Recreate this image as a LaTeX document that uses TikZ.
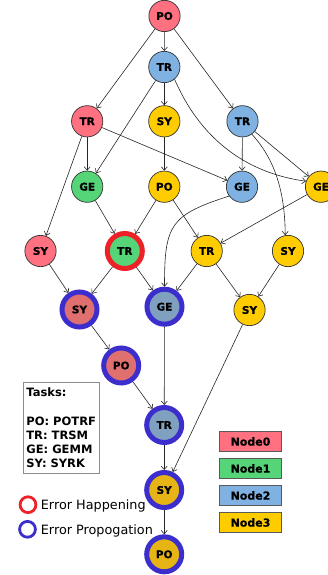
\documentclass[tikz,border=0pt]{standalone}
\usepackage{fontspec}
\setmainfont{DejaVu Sans}
\newfontfamily\heavyfam[FakeBold=0.8]{DejaVu Sans Bold}
\usetikzlibrary{arrows.meta}
\definecolor{cnode0}{RGB}{255,112,128}
\definecolor{cnode1}{RGB}{85,212,120}
\definecolor{cnode2}{RGB}{127,178,226}
\definecolor{cnode3}{RGB}{255,204,0}
\definecolor{rnode0}{RGB}{224,112,112}
\definecolor{rnode2}{RGB}{128,160,192}
\definecolor{rnode3}{RGB}{230,180,20}
\definecolor{ringblue}{RGB}{60,45,205}
\definecolor{ringred}{RGB}{238,32,40}
\newcommand\ndfont{\heavyfam\fontsize{10.5}{12}\selectfont}
\newcommand\lgfont{\bfseries\fontsize{11.5}{14.3}\selectfont}
\newcommand\erfont{\fontsize{12.8}{15}\selectfont}
\begin{document}
\begin{tikzpicture}[x=1pt,y=-1pt,
  task/.style={circle, draw=black!80, line width=0.7pt, minimum size=31.3pt, inner sep=0pt, font=\ndfont},
  errnode/.style={circle, line width=5pt, minimum size=35pt, inner sep=0pt, font=\ndfont},
  arr/.style={draw=black!85, line width=0.6pt, -{Straight Barb[length=3.5pt,width=6pt]}},
  legbox/.style={rectangle, draw=black!65, line width=0.9pt, minimum width=62pt, minimum height=20pt, inner sep=0pt, font=\heavyfam\fontsize{11}{13}\selectfont},
  errmark/.style={circle, line width=2.8pt, minimum size=15.8pt, inner sep=0pt},
  errlabel/.style={anchor=base west, inner sep=0pt, font=\erfont}]
\path[use as bounding box] (0,0) rectangle (328,575);
\clip (0,0) rectangle (328,575);
% nodes
\node[task, fill=cnode0] (po1) at (164.5,16) {PO};
\node[task, fill=cnode2] (tr2) at (164.3,67) {TR};
\node[task, fill=cnode0] (tr3) at (87.2,121.3) {TR};
\node[task, fill=cnode3] (sy4) at (164.3,121.3) {SY};
\node[task, fill=cnode2] (tr5) at (242.5,121.3) {TR};
\node[task, fill=cnode1] (ge6) at (87.2,186.7) {GE};
\node[task, fill=cnode3] (po7) at (164.3,186.7) {PO};
\node[task, fill=cnode2] (ge8) at (242,186.7) {GE};
\node[task, fill=cnode3] (ge9) at (321,186.7) {GE};
\node[task, fill=cnode0] (sy10) at (40.5,251) {SY};
\node[errnode, draw=ringred, fill=cnode1] (tr11) at (124.8,251) {TR};
\node[task, fill=cnode3] (tr12) at (206.7,251) {TR};
\node[task, fill=cnode3] (sy13) at (288,251) {SY};
\node[errnode, draw=ringblue, fill=rnode0] (sy14) at (79.5,309.5) {SY};
\node[errnode, draw=ringblue, fill=rnode2] (ge15) at (164.5,306.7) {GE};
\node[task, fill=cnode3] (sy16) at (249.5,310) {SY};
\node[errnode, draw=ringblue, fill=rnode0] (po17) at (121.2,365.5) {PO};
\node[errnode, draw=ringblue, fill=rnode2] (tr18) at (164.2,425) {TR};
\node[errnode, draw=ringblue, fill=rnode3] (sy19) at (164.2,490) {SY};
\node[errnode, draw=ringblue, fill=rnode3] (po20) at (164.2,554.3) {PO};
% edges
\draw[arr] (po1) -- (tr2);
\draw[arr] (po1) -- (tr3);
\draw[arr] (po1) -- (tr5);
\draw[arr] (tr2) -- (sy4);
\draw[arr] (tr2) -- (ge6);
\draw[arr] (tr2.-50) .. controls (190,115) and (225,170) .. (ge9.160);
\draw[arr] (tr3) -- (ge6);
\draw[arr] (tr3) -- (ge8);
\draw[arr] (tr3) -- (sy10);
\draw[arr] (tr5) -- (ge8);
\draw[arr] (tr5) -- (ge9);
\draw[arr] (tr5.-54) .. controls (268,152) and (285,180) .. (sy13.100);
\draw[arr] (sy4) -- (po7);
\draw[arr] (ge6) -- (tr11);
\draw[arr] (po7) -- (tr11);
\draw[arr] (po7) -- (tr12);
\draw[arr] (ge8.-144) .. controls (170,215) and (164.5,225) .. (ge15.north);
\draw[arr] (ge9) -- (tr12);
\draw[arr] (sy10) -- (sy14);
\draw[arr] (tr11) -- (sy14);
\draw[arr] (tr11) -- (ge15);
\draw[arr] (tr12) -- (ge15);
\draw[arr] (tr12) -- (sy16);
\draw[arr] (sy13) -- (sy16);
\draw[arr] (sy14) -- (po17);
\draw[arr] (po17) -- (tr18);
\draw[arr] (ge15) -- (tr18);
\draw[arr] (sy16) -- (sy19);
\draw[arr] (tr18) -- (sy19);
\draw[arr] (sy19) -- (po20);
% tasks legend
\node[draw=black!45, line width=0.8pt, anchor=north west, align=left, inner xsep=3pt, inner ysep=5.6pt, font=\lgfont] (tasks) at (23,381.7)
  {Tasks:\\[14.3pt]PO: POTRF\\TR: TRSM\\GE: GEMM\\SY: SYRK};
% error legend
\node[errmark, draw=ringred] (errhap) at (28,504.7) {};
\node[errmark, draw=ringblue] (errprop) at (27.5,529.3) {};
\node[errlabel] (errhaplbl) at (40.7,509.2) {Error Happening};
\node[errlabel] (errproplbl) at (40.7,534.2) {Error Propogation};
% node legend
\node[legbox, fill=cnode0] (leg0) at (250.5,441.5) {Node0};
\node[legbox, fill=cnode1] (leg1) at (250.5,468.5) {Node1};
\node[legbox, fill=cnode2] (leg2) at (250.5,495.5) {Node2};
\node[legbox, fill=cnode3] (leg3) at (250.5,522.5) {Node3};
\end{tikzpicture}
\end{document}
